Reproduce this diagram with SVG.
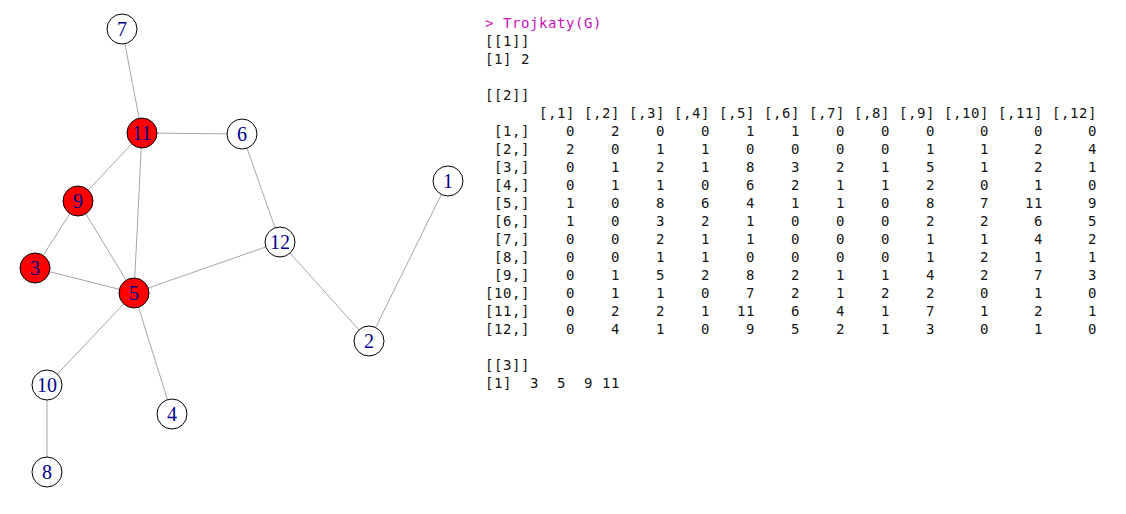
<svg xmlns="http://www.w3.org/2000/svg" width="1126" height="514" viewBox="0 0 1126 514">
<style>
.e{stroke:#a6a6a6;stroke-width:1;fill:none}
.n circle{stroke:#000;stroke-width:1}
.w circle{fill:#fff}
.r circle{fill:#ff0000}
.n text{font-family:"Liberation Serif",serif;font-size:20px;fill:#00008b;text-anchor:middle}
.c{font-family:"DejaVu Sans Mono",monospace;font-size:14px;letter-spacing:0.57px;fill:#141414;white-space:pre}
.p{fill:#cc10bb}
</style>
<rect width="1126" height="514" fill="#fff"/>
<g id="edges">
<line class="e" x1="122" y1="29" x2="142" y2="133"/>
<line class="e" x1="142" y1="133" x2="242" y2="134"/>
<line class="e" x1="142" y1="133" x2="78" y2="201"/>
<line class="e" x1="142" y1="133" x2="134" y2="293"/>
<line class="e" x1="78" y1="201" x2="35" y2="268"/>
<line class="e" x1="78" y1="201" x2="134" y2="293"/>
<line class="e" x1="35" y1="268" x2="134" y2="293"/>
<line class="e" x1="134" y1="293" x2="280" y2="242"/>
<line class="e" x1="242" y1="134" x2="280" y2="242"/>
<line class="e" x1="280" y1="242" x2="369" y2="341"/>
<line class="e" x1="369" y1="341" x2="448" y2="181"/>
<line class="e" x1="134" y1="293" x2="47" y2="385"/>
<line class="e" x1="134" y1="293" x2="172" y2="414"/>
<line class="e" x1="47" y1="385" x2="47" y2="472"/>
</g>
<g id="node1" class="n w"><circle cx="448" cy="181" r="15"/><text x="448" y="188">1</text></g>
<g id="node2" class="n w"><circle cx="369" cy="341" r="15"/><text x="369" y="348">2</text></g>
<g id="node3" class="n r"><circle cx="35" cy="268" r="15"/><text x="35" y="275">3</text></g>
<g id="node4" class="n w"><circle cx="172" cy="414" r="15"/><text x="172" y="421">4</text></g>
<g id="node5" class="n r"><circle cx="134" cy="293" r="15"/><text x="134" y="300">5</text></g>
<g id="node6" class="n w"><circle cx="242" cy="134" r="15"/><text x="242" y="141">6</text></g>
<g id="node7" class="n w"><circle cx="122" cy="29" r="15"/><text x="122" y="36">7</text></g>
<g id="node8" class="n w"><circle cx="47" cy="472" r="15"/><text x="47" y="479">8</text></g>
<g id="node9" class="n r"><circle cx="78" cy="201" r="15"/><text x="78" y="208">9</text></g>
<g id="node10" class="n w"><circle cx="47" cy="385" r="15"/><text x="47" y="392">10</text></g>
<g id="node11" class="n r"><circle cx="142" cy="133" r="15"/><text x="142" y="140">11</text></g>
<g id="node12" class="n w"><circle cx="280" cy="242" r="15"/><text x="280" y="249">12</text></g>
<g id="console" class="c" xml:space="preserve">
<text class="c p" x="485" y="28">&gt; Trojkaty(G)</text>
<text class="c" x="485" y="46">[[1]]</text>
<text class="c" x="485" y="64">[1] 2</text>
<text class="c" x="485" y="100">[[2]]</text>
<text class="c" x="485" y="118">      [,1] [,2] [,3] [,4] [,5] [,6] [,7] [,8] [,9] [,10] [,11] [,12]</text>
<text class="c" x="485" y="136"> [1,]    0    2    0    0    1    1    0    0    0     0     0     0</text>
<text class="c" x="485" y="154"> [2,]    2    0    1    1    0    0    0    0    1     1     2     4</text>
<text class="c" x="485" y="172"> [3,]    0    1    2    1    8    3    2    1    5     1     2     1</text>
<text class="c" x="485" y="190"> [4,]    0    1    1    0    6    2    1    1    2     0     1     0</text>
<text class="c" x="485" y="208"> [5,]    1    0    8    6    4    1    1    0    8     7    11     9</text>
<text class="c" x="485" y="226"> [6,]    1    0    3    2    1    0    0    0    2     2     6     5</text>
<text class="c" x="485" y="244"> [7,]    0    0    2    1    1    0    0    0    1     1     4     2</text>
<text class="c" x="485" y="262"> [8,]    0    0    1    1    0    0    0    0    1     2     1     1</text>
<text class="c" x="485" y="280"> [9,]    0    1    5    2    8    2    1    1    4     2     7     3</text>
<text class="c" x="485" y="298">[10,]    0    1    1    0    7    2    1    2    2     0     1     0</text>
<text class="c" x="485" y="316">[11,]    0    2    2    1   11    6    4    1    7     1     2     1</text>
<text class="c" x="485" y="334">[12,]    0    4    1    0    9    5    2    1    3     0     1     0</text>
<text class="c" x="485" y="370">[[3]]</text>
<text class="c" x="485" y="388">[1]  3  5  9 11</text>
</g>
</svg>
